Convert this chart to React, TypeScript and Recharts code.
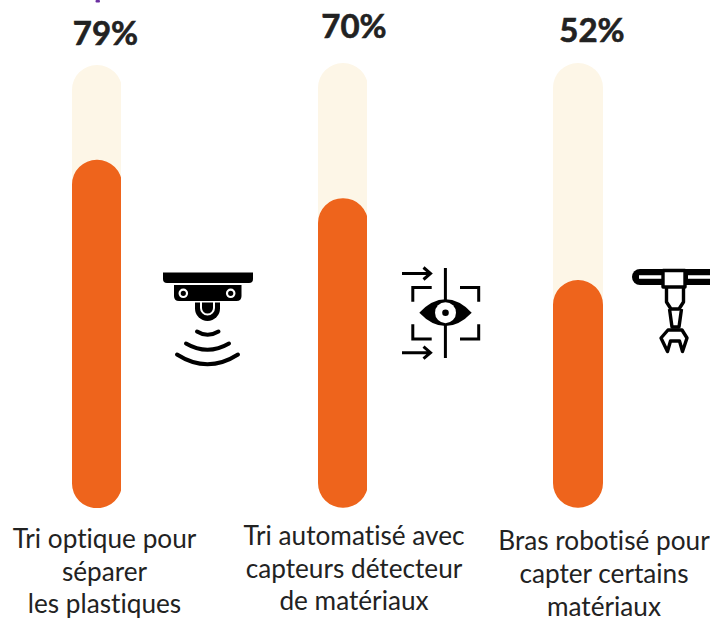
import React from 'react';
import { BarChart, Bar, XAxis, YAxis } from 'recharts';

// Values
const categories = ['Tri optique', 'Tri automatisé', 'Bras robotisé'];
const percentLabels = ['79%', '70%', '52%'];
// fill levels as measured on the picture (slightly under the printed numbers)
const fillLevels = [78.6, 69.6, 51.2];
const captions = [
  ['Tri optique pour', 'séparer', 'les plastiques'],
  ['Tri automatisé avec', 'capteurs détecteur', 'de matériaux'],
  ['Bras robotisé pour', 'capter certains', 'matériaux'],
];

// Layout of each column, the columns are not evenly spaced in the picture
const columns = [
  { left: 71.5, top: 64.5, labelX: 105.5, labelY: 45, captionX: 104.5, captionY: 548, lineGap: 32.6 },
  { left: 317.7, top: 63, labelX: 354, labelY: 37.5, captionX: 354, captionY: 545, lineGap: 32.6 },
  { left: 553, top: 63, labelX: 592, labelY: 41.5, captionX: 604, captionY: 550, lineGap: 33.2 },
];
const BOTTOM = 507.7;
const BAR_WIDTH = 49.5;
const FONT = 'Lato, "Open Sans", sans-serif';
const INK = '#222222';

const Thermometer = ({ index }: { index: number }) => {
  const col = columns[index];
  const height = BOTTOM - col.top;
  const rows = [{ name: categories[index], value: fillLevels[index] }];
  return (
    <div style={{ position: 'absolute', left: col.left, top: col.top }}>
      <BarChart
        width={BAR_WIDTH}
        height={height}
        data={rows}
        margin={{ top: 0, right: 0, bottom: 0, left: 0 }}
        barCategoryGap={0}
      >
        <XAxis dataKey="name" hide />
        <YAxis type="number" domain={[0, 100]} hide />
        <Bar
          dataKey="value"
          fill="#EE641C"
          radius={BAR_WIDTH / 2}
          background={{ fill: '#FDF6E7', radius: BAR_WIDTH / 2 }}
          isAnimationActive={false}
        />
      </BarChart>
    </div>
  );
};

const CameraIcon = () => (
  <g>
    <path d="M163,272.5 H253 V279 Q253,283 249,283 H167 Q163,283 163,279 Z" fill="#000" />
    <path d="M174,285 H241.5 V296 Q241.5,301 236.5,301 H179 Q174,301 174,296 Z" fill="#000" />
    <circle cx={183.3} cy={293.3} r={3.7} fill="#000" stroke="#fff" strokeWidth={2.2} />
    <circle cx={230.7} cy={293.3} r={3.7} fill="#000" stroke="#fff" strokeWidth={2.2} />
    <path d="M195,302.5 H220 V308.5 A12.5,12.5 0 0 1 195,308.5 Z" fill="#000" />
    <path d="M201,302 V308 A6.5,6.5 0 0 0 214,308 V302" fill="none" stroke="#fff" strokeWidth={2} />
    <g fill="none" stroke="#000" strokeWidth={4} strokeLinecap="round">
      <path d="M197,331.5 Q207.5,338 218.5,331.5" />
      <path d="M186,343.5 Q207.5,356 229,343.5" />
      <path d="M177,354.5 Q207.5,374 238,354.5" />
    </g>
  </g>
);

const EyeIcon = () => (
  <g>
    <g fill="none" stroke="#000" strokeWidth={3}>
      <path d="M445.4,268 V358" />
      <path d="M402,273.5 H430 M423.5,267.5 L430.5,273.5 L423.5,279.5" />
      <path d="M402,352.7 H430 M423.5,346.7 L430.5,352.7 L423.5,358.7" />
      <path d="M431.7,287.5 H412.8 V301.7" />
      <path d="M460,287.5 H478.7 V301.7" />
      <path d="M412.8,324.3 V339 H431.7" />
      <path d="M478.7,324.3 V339 H460" />
    </g>
    <path d="M419.3,312.7 Q432,299.3 445.5,299.3 Q459,299.3 471.7,312.7 Q459,326 445.5,326 Q432,326 419.3,312.7 Z" fill="#000" />
    <circle cx={445.5} cy={312.7} r={10.5} fill="#fff" />
    <circle cx={445.5} cy={312.7} r={3.3} fill="#000" />
  </g>
);

const RobotArmIcon = () => (
  <g>
    <path d="M662,269 H640 A8,8 0 0 0 640,285 H662 Z" fill="#000" />
    <rect x={685} y={269} width={25} height={16} fill="#000" />
    <path d="M639,277 H662 M688,277 H710" stroke="#fff" strokeWidth={3.4} fill="none" />
    <g fill="none" stroke="#000" strokeWidth={3.4} strokeLinejoin="round">
      <rect x={663} y={270.5} width={22} height={16.5} fill="#fff" />
      <path d="M666.5,288 V302 L671,309 H679 L683.5,302 V288" />
      <path d="M669.5,309 L672,327 H679 L681.5,309" />
      <path d="M668,330 H682 L687,338 L682.5,351.5 L679.5,341 H670.5 L667.5,351.5 L661,338 Z" />
    </g>
  </g>
);

export default function App() {
  return (
    <div style={{ position: 'absolute', left: 0, top: 0, width: 710, height: 619, background: '#fff', overflow: 'hidden' }}>
      {categories.map((_, i) => (
        <Thermometer key={i} index={i} />
      ))}
      <svg width={710} height={619} style={{ position: 'absolute', left: 0, top: 0, fontVariantLigatures: 'none' }}>
        {/* cut off purple letter at the top edge */}
        <rect x={95.5} y={0} width={4.5} height={2.5} rx={1} fill="#6A2EA0" />
        {columns.map((col, i) => (
          <text key={i} x={col.labelX} y={col.labelY} textAnchor="middle" fontFamily={FONT} fontWeight={700} fontSize={33} fill={INK} stroke={INK} strokeWidth={0.6}>
            {percentLabels[i]}
          </text>
        ))}
        {columns.map((col, i) =>
          captions[i].map((line, j) => (
            <text key={line} x={col.captionX} y={col.captionY + j * col.lineGap} textAnchor="middle" fontFamily={FONT} fontSize={26.2} fill={INK}>
              {line}
            </text>
          )),
        )}
        <CameraIcon />
        <EyeIcon />
        <RobotArmIcon />
      </svg>
    </div>
  );
}
